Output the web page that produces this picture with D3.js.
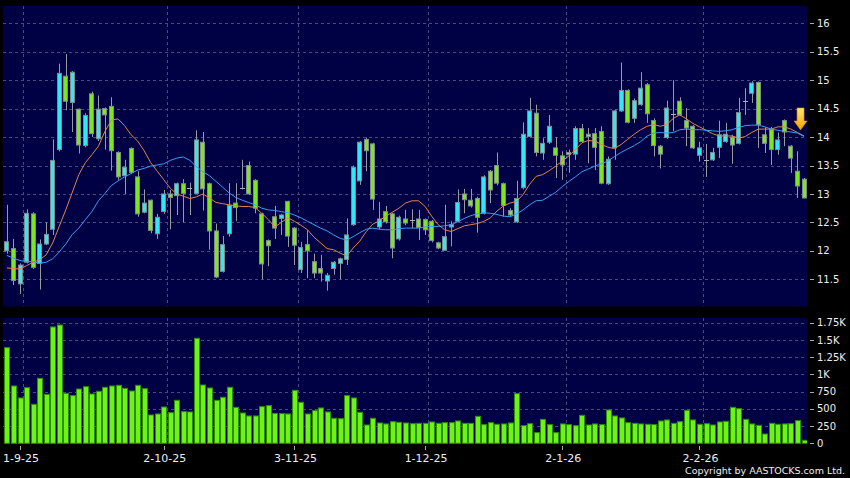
<!DOCTYPE html>
<html>
<head>
<meta charset="utf-8">
<script src="https://cdn.jsdelivr.net/npm/d3@7"></script>
<style>
  html, body { margin: 0; padding: 0; background: #000; }
  svg { display: block; }
</style>
</head>
<body>
<div id="chart"></div>
<script>
/* global d3 */
// candles (one per trading day)
var opens  = [12.00,12.04,11.42,11.80,12.65,11.78,12.12,12.38,13.78,15.07,14.61,14.49,13.85,14.76,13.97,14.50,14.54,13.73,13.32,13.80,
              13.30,12.68,12.89,12.30,12.69,13.00,12.97,13.18,13.10,13.01,13.91,13.18,12.35,11.64,12.30,12.84,13.10,13.50,13.24,12.65,
              12.18,12.60,12.57,12.87,12.40,11.67,12.11,11.81,11.69,11.47,11.69,11.78,11.85,12.46,13.23,13.96,13.88,12.42,12.69,12.65,
              12.21,12.56,12.55,12.56,12.55,12.52,12.14,12.01,12.42,12.52,13.00,12.89,12.92,12.66,13.40,13.50,13.18,12.71,12.51,13.11,
              14.01,14.42,13.72,13.91,13.81,13.67,13.69,13.70,14.15,14.01,14.06,14.10,13.18,13.81,14.46,14.82,14.33,14.57,14.92,14.29,
              13.84,13.99,14.40,14.63,14.29,14.19,13.68,13.60,13.60,13.82,13.92,14.00,13.89,14.64,14.77,14.96,14.04,14.13,13.78,14.29,
              13.84,13.40,13.26];
var highs  = [12.81,12.21,11.78,12.73,12.68,12.20,12.50,13.96,15.29,15.46,15.16,14.50,14.42,14.80,14.73,14.52,14.70,13.75,13.60,13.82,
              13.40,13.08,12.90,12.65,13.07,13.07,13.20,13.26,13.20,14.12,14.09,13.20,12.48,12.26,13.19,13.19,13.60,13.57,13.26,12.67,
              12.20,12.79,12.65,12.88,12.42,12.16,12.36,11.95,11.93,11.61,11.82,11.88,12.57,13.50,13.93,13.99,13.90,12.86,12.79,12.67,
              12.62,12.72,12.73,12.72,12.57,12.54,12.16,12.81,12.52,13.08,13.09,13.09,12.95,13.33,13.42,13.73,13.20,12.75,13.23,14.26,
              14.69,14.57,13.98,14.39,14.00,13.75,13.78,14.19,14.23,14.16,14.16,14.19,13.66,14.48,15.31,14.84,14.68,15.14,14.95,14.33,
              13.86,14.64,15.00,14.70,14.51,14.21,13.92,13.88,13.81,14.29,14.25,14.04,14.69,14.86,14.98,14.98,14.17,14.18,14.08,14.31,
              13.86,13.75,13.28];
var lows   = [11.95,11.40,11.24,11.78,11.68,11.32,12.10,12.28,13.75,14.47,14.09,13.71,13.82,14.00,13.93,13.78,13.41,13.25,13.00,13.35,
              12.60,12.66,12.31,12.21,12.65,12.38,12.63,12.50,12.63,13.00,12.71,12.02,11.52,11.62,12.25,12.52,13.08,12.98,12.66,11.50,
              11.73,12.21,12.28,12.07,11.75,11.61,11.52,11.52,11.46,11.30,11.58,11.50,11.75,12.44,13.16,13.40,12.72,12.38,12.48,11.87,
              12.18,12.45,12.40,12.19,12.28,12.15,12.03,12.00,12.08,12.50,12.66,12.76,12.32,12.64,12.84,13.15,12.60,12.60,12.49,13.08,
              13.99,13.66,13.60,13.88,13.28,13.25,13.37,13.60,13.90,13.54,13.42,13.17,13.16,13.60,14.44,14.24,14.25,14.55,14.25,13.66,
              13.45,13.97,14.10,14.37,13.84,13.79,13.57,13.30,13.58,13.63,13.90,13.53,13.87,14.39,14.60,13.81,13.72,13.51,13.69,13.84,
              13.37,12.93,12.92];
var closes = [12.16,11.48,11.75,12.66,11.71,12.12,12.29,13.59,15.12,14.63,15.14,13.86,14.38,14.06,14.49,14.39,13.76,13.30,13.47,13.38,
              12.65,12.84,12.36,12.59,13.00,12.94,13.18,13.01,13.10,13.95,13.09,12.35,11.54,12.11,12.80,12.76,13.10,13.00,12.75,11.77,
              12.09,12.40,12.63,12.26,12.10,12.06,12.00,11.61,11.61,11.57,11.80,11.86,12.28,13.47,13.91,13.76,12.91,12.56,12.51,12.05,
              12.59,12.49,12.55,12.41,12.37,12.18,12.05,12.25,12.46,12.85,12.90,12.79,12.59,13.30,13.07,13.19,12.80,12.63,12.92,14.05,
              14.46,13.73,13.89,14.19,13.68,13.51,13.73,14.15,13.92,14.05,13.82,13.19,13.61,14.46,14.82,14.26,14.64,14.86,14.41,13.85,
              13.70,14.51,14.40,14.39,14.16,13.81,13.81,13.60,13.73,14.04,14.05,13.86,14.43,14.64,14.95,14.22,13.89,13.78,13.95,14.09,
              13.63,13.14,12.93];
// volume, thousands of shares
var volumes = [1388,832,658,808,566,943,711,1688,1717,726,692,788,822,716,755,813,832,842,798,759,
               842,793,411,426,527,445,624,460,455,1524,846,803,624,668,813,522,440,397,397,532,
               547,435,431,426,769,595,426,474,513,455,363,358,692,658,450,266,363,295,281,314,
               305,295,285,290,290,310,290,300,300,324,290,290,392,271,300,276,281,295,721,256,
               285,155,348,271,155,281,271,256,406,266,281,271,484,397,368,300,290,281,276,271,
               324,339,290,314,479,339,276,285,266,310,319,522,503,348,281,261,135,290,276,281,
               285,329,44];
// moving averages as drawn on the chart
var maShort = [11.70,11.69,11.68,11.74,11.80,11.84,11.93,12.14,12.43,12.72,13.03,13.34,13.55,13.69,13.84,14.10,14.30,14.32,14.20,14.04,
               13.93,13.76,13.55,13.40,13.25,13.10,13.00,12.96,12.92,12.95,13.00,12.93,12.85,12.83,12.81,12.79,12.78,12.78,12.76,12.66,
               12.55,12.42,12.50,12.58,12.52,12.45,12.37,12.24,12.14,12.04,12.02,11.96,11.91,12.05,12.17,12.34,12.47,12.53,12.61,12.68,
               12.75,12.84,12.88,12.88,12.78,12.61,12.46,12.37,12.34,12.39,12.44,12.46,12.48,12.52,12.58,12.70,12.79,12.84,12.87,12.99,
               13.17,13.31,13.34,13.41,13.49,13.58,13.67,13.78,13.90,13.94,13.93,13.87,13.82,13.80,13.87,13.96,14.05,14.13,14.19,14.22,
               14.19,14.22,14.33,14.39,14.32,14.24,14.18,14.12,14.06,14.02,14.02,14.02,13.98,14.01,14.08,14.14,14.14,14.14,14.18,14.18,
               14.14,14.08,14.02];
var maLong  = [11.92,11.87,11.83,11.81,11.81,11.78,11.80,11.86,11.98,12.12,12.29,12.40,12.55,12.69,12.88,13.01,13.15,13.23,13.30,13.36,
               13.42,13.45,13.49,13.51,13.53,13.59,13.63,13.65,13.59,13.48,13.39,13.32,13.22,13.12,13.02,12.94,12.89,12.85,12.81,12.75,
               12.72,12.71,12.69,12.67,12.63,12.58,12.52,12.46,12.40,12.35,12.28,12.22,12.19,12.25,12.32,12.38,12.40,12.38,12.37,12.37,
               12.39,12.40,12.40,12.40,12.42,12.43,12.43,12.44,12.46,12.51,12.57,12.62,12.65,12.67,12.66,12.64,12.61,12.60,12.65,12.72,
               12.81,12.88,12.89,12.96,13.03,13.13,13.22,13.30,13.39,13.44,13.49,13.53,13.58,13.66,13.73,13.79,13.85,13.92,14.02,14.07,
               14.08,14.07,14.08,14.13,14.14,14.13,14.13,14.12,14.11,14.10,14.11,14.13,14.17,14.20,14.21,14.21,14.18,14.14,14.12,14.10,
               14.09,14.07,14.01];

var dateTickIdx = [2, 24, 44, 64, 85, 106];
var dateTickLabels = ['1-9-25', '2-10-25', '3-11-25', '1-12-25', '2-1-26', '2-2-26'];
var priceTicks = [11.5, 12, 12.5, 13, 13.5, 14, 14.5, 15, 15.5, 16];
var volTicks = [0, 250, 500, 750, 1000, 1250, 1500, 1750];
var volTickLabels = ['0', '250', '500', '750', '1K', '1.25K', '1.5K', '1.75K'];

var width = 850, height = 478;
var main = { left: 3, right: 807, top: 6, bottom: 306.5 };
var vol = { left: 3, right: 807, top: 318, bottom: 444 };
var bg = '#000044';
var gridColor = '#4a4a80';
var textColor = '#eeeeee';
var font = 'DejaVu Sans, Verdana, sans-serif';

var n = closes.length;
var bars = d3.range(n).map(function(i) {
  return { i: i, o: opens[i], h: highs[i], l: lows[i], c: closes[i], v: volumes[i] };
});

var x = d3.scaleBand().domain(d3.range(n)).range([3.7, 807.3]).padding(0);
var cx = function(i) { return x(i) + x.bandwidth() / 2; };
var y = d3.scaleLinear().domain([11.5, 16]).range([279.3, 23.3]);
var yv = d3.scaleLinear().domain([0, 1750]).range([443.3, 322.7]);

var svg = d3.select('#chart').append('svg')
  .attr('width', width).attr('height', height);

svg.append('rect').attr('width', width).attr('height', height).attr('fill', '#000');

var defs = svg.append('defs');
defs.append('clipPath').attr('id', 'clipMain').append('rect')
  .attr('x', main.left).attr('y', main.top)
  .attr('width', main.right - main.left).attr('height', main.bottom - main.top);
defs.append('clipPath').attr('id', 'clipVol').append('rect')
  .attr('x', vol.left).attr('y', vol.top)
  .attr('width', vol.right - vol.left).attr('height', vol.bottom - vol.top);
var grad = defs.append('linearGradient').attr('id', 'arrowGrad')
  .attr('x1', 0).attr('y1', 0).attr('x2', 0).attr('y2', 1);
grad.append('stop').attr('offset', '0%').attr('stop-color', '#ffe96a');
grad.append('stop').attr('offset', '100%').attr('stop-color', '#f2a300');

// panels
svg.append('rect').attr('x', main.left).attr('y', main.top)
  .attr('width', main.right - main.left).attr('height', main.bottom - main.top).attr('fill', bg);
svg.append('rect').attr('x', vol.left).attr('y', vol.top)
  .attr('width', vol.right - vol.left).attr('height', vol.bottom - vol.top).attr('fill', bg);

// grid
var gMain = svg.append('g').attr('clip-path', 'url(#clipMain)');
var gVol = svg.append('g').attr('clip-path', 'url(#clipVol)');

gMain.selectAll('line.hgrid').data(priceTicks).enter().append('line')
  .attr('x1', main.left).attr('x2', main.right)
  .attr('y1', d => Math.round(y(d)) + 0.5).attr('y2', d => Math.round(y(d)) + 0.5)
  .attr('stroke', gridColor).attr('stroke-dasharray', '3,3');
gVol.selectAll('line.hgrid').data(volTicks.slice(1)).enter().append('line')
  .attr('x1', vol.left).attr('x2', vol.right)
  .attr('y1', d => Math.round(yv(d)) + 0.5).attr('y2', d => Math.round(yv(d)) + 0.5)
  .attr('stroke', gridColor).attr('stroke-dasharray', '3,3');
[gMain, gVol].forEach(function(g, k) {
  var p = k === 0 ? main : vol;
  g.selectAll('line.vgrid').data(dateTickIdx).enter().append('line')
    .attr('x1', d => Math.round(x(d) + x.bandwidth()) + 0.5)
    .attr('x2', d => Math.round(x(d) + x.bandwidth()) + 0.5)
    .attr('y1', p.top).attr('y2', p.bottom)
    .attr('stroke', gridColor).attr('stroke-dasharray', '3,3');
});

// candles
var bodyW = 5;
var candles = gMain.selectAll('g.candle').data(bars).enter().append('g');
candles.append('line')
  .attr('x1', d => Math.round(cx(d.i)) + 0.5).attr('x2', d => Math.round(cx(d.i)) + 0.5)
  .attr('y1', d => y(d.h)).attr('y2', d => y(d.l))
  .attr('stroke', '#9a9a9a').attr('stroke-width', 1);
candles.filter(d => d.o !== d.c).append('rect')
  .attr('x', d => Math.round(cx(d.i) - bodyW / 2) + 0.5)
  .attr('y', d => y(Math.max(d.o, d.c)))
  .attr('width', bodyW - 1)
  .attr('height', d => Math.max(1, y(Math.min(d.o, d.c)) - y(Math.max(d.o, d.c))))
  .attr('fill', d => d.c > d.o ? '#33e6f2' : '#7ee620')
  .attr('stroke', '#7f8c8c').attr('stroke-width', 1);
candles.filter(d => d.o === d.c).append('line')
  .attr('x1', d => Math.round(cx(d.i) - bodyW / 2)).attr('x2', d => Math.round(cx(d.i) + bodyW / 2))
  .attr('y1', d => Math.round(y(d.c)) + 0.5).attr('y2', d => Math.round(y(d.c)) + 0.5)
  .attr('stroke', '#b0b0b0');

// moving averages
var lineS = d3.line().x((d, i) => cx(i)).y(d => y(d));
gMain.append('path').datum(maShort).attr('d', lineS)
  .attr('fill', 'none').attr('stroke', '#e0844e').attr('stroke-width', 1);
gMain.append('path').datum(maLong).attr('d', lineS)
  .attr('fill', 'none').attr('stroke', '#3c9cf0').attr('stroke-width', 1);

// down arrow near the last bar
var ax = cx(n - 1) - 3.5, ay = y(maLong[n - 3]) - 2;
svg.append('path')
  .attr('d', 'M' + (ax - 3.5) + ',' + (ay - 22) + 'H' + (ax + 3.5) + 'V' + (ay - 9) +
    'H' + (ax + 6.5) + 'L' + ax + ',' + ay + 'L' + (ax - 6.5) + ',' + (ay - 9) +
    'H' + (ax - 3.5) + 'Z')
  .attr('fill', 'url(#arrowGrad)').attr('stroke', '#d98a00').attr('stroke-width', 0.6);

// volume bars
gVol.selectAll('rect.vbar').data(bars).enter().append('rect')
  .attr('x', d => Math.round(cx(d.i) - 2.5) + 0.5)
  .attr('y', d => yv(d.v))
  .attr('width', 5)
  .attr('height', d => yv(0) - yv(d.v))
  .attr('fill', '#6cf514').attr('stroke', '#2f8a06').attr('stroke-width', 1);

// right axes
function rightAxis(ticks, labels, scale) {
  var g = svg.append('g');
  g.selectAll('line').data(ticks).enter().append('line')
    .attr('x1', 810).attr('x2', 814)
    .attr('y1', d => Math.round(scale(d)) + 0.5).attr('y2', d => Math.round(scale(d)) + 0.5)
    .attr('stroke', '#aaaaaa');
  g.selectAll('text').data(ticks).enter().append('text')
    .attr('x', 817).attr('y', d => scale(d) + 3.6)
    .attr('fill', textColor).attr('font-family', font).attr('font-size', '10px')
    .text((d, i) => labels[i]);
}
rightAxis(priceTicks, priceTicks.map(d => String(d)), y);
rightAxis(volTicks, volTickLabels, yv);

// date axis
var gDate = svg.append('g');
gDate.selectAll('line').data(dateTickIdx).enter().append('line')
  .attr('x1', d => Math.round(cx(d)) + 0.5).attr('x2', d => Math.round(cx(d)) + 0.5)
  .attr('y1', 446).attr('y2', 450).attr('stroke', '#aaaaaa');
gDate.selectAll('text').data(dateTickIdx).enter().append('text')
  .attr('x', d => cx(d) + 1).attr('y', 462)
  .attr('text-anchor', 'middle')
  .attr('fill', textColor).attr('font-family', font).attr('font-size', '11px')
  .text((d, i) => dateTickLabels[i]);

svg.append('text').attr('x', 845).attr('y', 474).attr('text-anchor', 'end')
  .attr('fill', textColor).attr('font-family', font).attr('font-size', '9.5px')
  .text('Copyright by AASTOCKS.com Ltd.');
</script>
</body>
</html>
